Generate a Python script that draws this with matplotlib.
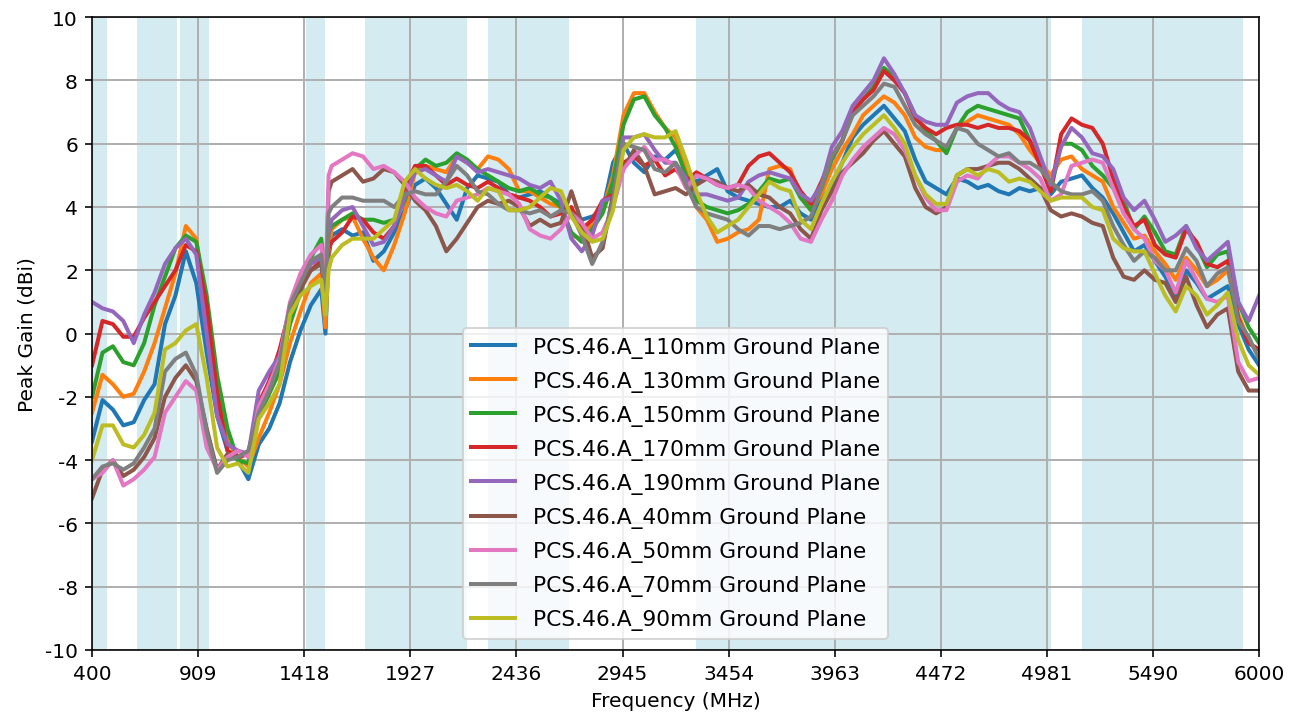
import matplotlib
matplotlib.use("Agg")
import matplotlib.pyplot as plt

plt.rcParams['axes.unicode_minus'] = False

freq = list(range(400, 1501, 50)) + [1520, 1535] + list(range(1550, 6001, 50))

labels = ["PCS.46.A_110mm Ground Plane", "PCS.46.A_130mm Ground Plane",
          "PCS.46.A_150mm Ground Plane", "PCS.46.A_170mm Ground Plane",
          "PCS.46.A_190mm Ground Plane", "PCS.46.A_40mm Ground Plane",
          "PCS.46.A_50mm Ground Plane", "PCS.46.A_70mm Ground Plane",
          "PCS.46.A_90mm Ground Plane"]

gp110 = [-3.4, -2.1, -2.4, -2.9, -2.8, -2.1, -1.6, 0.3, 1.2, 2.6, 1.6, -0.6, -2.6, -3.7, -4.0, -4.6,
         -3.5, -3.0, -2.2, -0.9, 0.1, 0.9, 1.4, 0.0, 2.4, 3.1, 3.3, 3.1, 3.2, 2.3, 2.6, 3.2, 3.9, 4.7,
         4.9, 4.6, 4.1, 3.6, 4.6, 5.0, 4.9, 4.8, 4.4, 4.3, 4.4, 4.5, 4.3, 4.1, 3.9, 3.6, 3.7, 3.9, 5.4,
         6.0, 5.4, 5.1, 5.6, 5.5, 5.8, 5.2, 4.8, 5.0, 5.2, 4.5, 4.3, 4.2, 4.1, 4.0, 4.0, 4.2, 3.8, 3.6,
         4.2, 4.7, 5.4, 6.2, 6.6, 6.9, 7.2, 6.8, 6.4, 5.5, 4.8, 4.6, 4.4, 4.9, 4.8, 4.6, 4.7, 4.5, 4.4,
         4.6, 4.5, 4.6, 4.4, 4.8, 4.9, 5.0, 4.6, 4.3, 3.8, 3.2, 2.6, 2.8, 2.3, 1.8, 1.2, 2.0, 1.6, 1.1,
         1.3, 1.5, 0.3, -0.5, -1.0]
gp130 = [-2.5, -1.3, -1.6, -2.0, -1.9, -1.2, -0.3, 0.8, 1.9, 3.4, 3.0, 0.6, -1.6, -3.4, -3.9, -4.2,
         -3.3, -2.5, -1.6, -0.3, 0.7, 1.6, 1.9, 0.2, 2.6, 3.3, 3.6, 3.7, 3.0, 2.4, 2.0, 2.8, 3.8, 5.1,
         5.3, 5.2, 5.1, 5.6, 5.4, 5.2, 5.6, 5.5, 5.2, 4.5, 4.5, 4.3, 4.1, 4.0, 3.1, 3.0, 3.5, 3.9, 5.0,
         6.9, 7.6, 7.6, 7.0, 6.5, 6.2, 5.2, 4.0, 3.6, 2.9, 3.0, 3.2, 3.3, 3.6, 5.2, 5.3, 5.2, 4.3, 3.9,
         4.4, 5.2, 5.8, 6.3, 6.9, 7.2, 7.5, 7.3, 6.9, 6.2, 5.9, 5.8, 5.8, 6.5, 6.7, 6.9, 6.8, 6.7, 6.6,
         6.3, 5.8, 5.4, 5.0, 5.5, 5.6, 5.2, 5.0, 4.8, 4.0, 3.5, 3.0, 3.1, 2.6, 2.2, 1.7, 2.4, 2.0, 1.5,
         1.7, 2.0, 0.6, -0.2, -0.7]
gp150 = [-2.0, -0.6, -0.4, -0.9, -1.0, -0.3, 0.9, 1.8, 2.7, 3.1, 2.9, 1.2, -1.3, -3.0, -4.0, -4.1,
         -2.6, -1.9, -1.2, 0.3, 1.3, 2.4, 3.0, 1.6, 3.2, 3.4, 3.6, 3.8, 3.6, 3.6, 3.5, 3.6, 4.2, 5.2,
         5.5, 5.3, 5.4, 5.7, 5.5, 5.2, 5.0, 4.8, 4.6, 4.5, 4.6, 4.4, 4.3, 4.0, 3.2, 2.9, 3.3, 3.8, 4.8,
         6.6, 7.4, 7.5, 6.9, 6.5, 5.9, 5.0, 4.2, 4.0, 3.9, 3.8, 3.9, 4.1, 4.5, 4.9, 4.8, 4.9, 4.3, 3.9,
         4.6, 5.5, 6.1, 7.0, 7.4, 7.8, 8.4, 8.1, 7.6, 6.9, 6.4, 6.1, 5.7, 6.5, 7.0, 7.2, 7.1, 7.0, 6.9,
         6.8, 6.1, 5.4, 4.5, 6.0, 6.0, 5.8, 5.3, 5.0, 4.6, 4.2, 3.3, 3.7, 3.2, 2.6, 2.5, 3.4, 2.8, 2.1,
         2.5, 2.6, 1.0, 0.2, -0.3]
gp170 = [-1.0, 0.4, 0.3, -0.1, -0.1, 0.5, 1.0, 1.5, 2.0, 2.8, 2.6, 0.9, -1.9, -3.7, -3.9, -3.8,
         -2.2, -1.5, -0.5, 0.8, 1.7, 2.0, 2.3, 1.2, 2.7, 2.9, 3.2, 3.7, 3.6, 3.2, 3.0, 3.4, 4.6, 5.3,
         5.3, 5.0, 4.7, 4.9, 4.7, 4.6, 4.8, 4.6, 4.4, 4.3, 4.2, 4.0, 3.7, 3.8, 4.0, 3.3, 3.6, 4.2, 4.4,
         5.4, 5.6, 5.3, 5.5, 5.0, 5.2, 4.8, 5.1, 4.9, 4.7, 4.6, 4.7, 5.3, 5.6, 5.7, 5.4, 5.1, 4.5, 4.1,
         4.8, 5.6, 6.1, 7.0, 7.4, 7.7, 8.3, 8.0, 7.6, 6.8, 6.5, 6.3, 6.5, 6.6, 6.6, 6.5, 6.6, 6.5, 6.5,
         6.4, 6.1, 5.3, 4.5, 6.3, 6.8, 6.6, 6.5, 6.0, 4.9, 4.0, 3.4, 3.6, 2.8, 2.5, 2.4, 3.3, 2.9, 2.2,
         2.1, 2.3, 0.5, -0.3, -0.5]
gp190 = [1.0, 0.8, 0.7, 0.4, -0.3, 0.6, 1.3, 2.2, 2.7, 3.0, 2.5, 0.0, -2.6, -3.5, -3.7, -3.8,
         -1.8, -1.2, -0.7, 0.8, 1.6, 2.2, 2.4, 1.2, 3.2, 3.6, 3.9, 4.0, 3.4, 2.8, 2.9, 3.4, 4.3, 5.1,
         5.2, 5.0, 4.8, 5.6, 5.4, 5.1, 5.2, 5.1, 5.0, 4.9, 4.7, 4.6, 4.8, 4.2, 3.0, 2.6, 3.1, 4.2, 4.3,
         6.2, 6.2, 6.3, 5.8, 5.4, 5.4, 4.9, 4.4, 4.4, 4.3, 4.2, 4.3, 4.8, 5.0, 5.1, 5.0, 4.9, 4.4, 4.2,
         4.7, 5.9, 6.4, 7.2, 7.6, 8.0, 8.7, 8.2, 7.6, 6.9, 6.7, 6.6, 6.6, 7.3, 7.5, 7.6, 7.6, 7.3, 7.1,
         7.0, 6.5, 5.6, 4.7, 5.9, 6.5, 6.2, 5.7, 5.6, 5.2, 4.3, 3.9, 4.2, 3.6, 2.9, 3.1, 3.4, 2.7, 2.3,
         2.6, 2.9, 1.0, 0.4, 1.2]
gp40 = [-5.2, -4.3, -4.0, -4.5, -4.3, -3.9, -3.3, -2.0, -1.4, -1.0, -1.5, -3.0, -4.3, -3.8, -3.9, -3.8,
        -2.4, -1.8, -0.9, 0.8, 1.4, 2.0, 2.2, 1.2, 4.5, 4.8, 5.0, 5.2, 4.8, 4.9, 5.2, 5.1, 4.7, 4.2,
        3.9, 3.4, 2.6, 3.0, 3.5, 4.0, 4.2, 4.1, 4.2, 4.0, 3.4, 3.6, 3.4, 3.5, 4.5, 3.5, 2.4, 2.7, 4.4,
        5.2, 5.8, 5.3, 4.4, 4.5, 4.6, 4.4, 4.7, 4.9, 4.8, 4.6, 4.5, 4.7, 4.4, 4.3, 4.0, 3.8, 3.3, 3.0,
        3.9, 4.5, 5.1, 5.4, 5.7, 6.1, 6.4, 6.0, 5.6, 4.6, 4.0, 3.8, 4.0, 5.0, 5.2, 5.2, 5.3, 5.4, 5.4,
        5.2, 4.9, 4.6, 3.9, 3.7, 3.8, 3.7, 3.5, 3.4, 2.4, 1.8, 1.7, 2.0, 1.7, 1.6, 1.0, 1.8, 0.9, 0.2,
        0.6, 0.8, -1.2, -1.8, -1.8]
gp50 = [-4.6, -4.4, -4.0, -4.8, -4.6, -4.3, -3.9, -2.5, -2.0, -1.5, -1.8, -3.6, -4.3, -3.9, -3.7, -3.9,
        -2.3, -1.6, -0.8, 1.0, 1.9, 2.5, 2.8, 1.5, 5.0, 5.3, 5.5, 5.7, 5.6, 5.2, 5.3, 5.1, 4.8, 4.3,
        4.0, 3.8, 3.7, 4.2, 4.3, 4.4, 4.6, 4.5, 4.4, 4.1, 3.3, 3.1, 3.0, 3.3, 3.8, 3.5, 3.0, 3.2, 4.0,
        5.2, 5.6, 5.9, 5.5, 5.5, 5.3, 4.6, 5.0, 4.9, 4.7, 4.6, 4.7, 4.6, 4.2, 4.0, 3.8, 3.5, 3.0, 2.9,
        3.6, 4.2, 5.0, 5.5, 5.9, 6.2, 6.5, 6.3, 5.8, 5.0, 4.3, 3.9, 3.9, 4.8, 5.0, 4.9, 5.3, 5.6, 5.6,
        5.4, 5.2, 4.9, 4.2, 4.4, 5.3, 5.4, 5.5, 5.4, 4.6, 3.8, 3.3, 3.0, 2.3, 2.0, 1.3, 2.3, 1.7, 1.1,
        1.0, 1.2, -0.9, -1.5, -1.4]
gp70 = [-4.6, -4.2, -4.1, -4.3, -4.1, -3.6, -3.0, -1.2, -0.8, -0.6, -1.3, -3.1, -4.4, -4.0, -3.9, -3.7,
        -2.5, -1.8, -0.9, 0.9, 1.6, 2.3, 2.5, 1.1, 3.8, 4.0, 4.3, 4.3, 4.2, 4.2, 4.2, 4.0, 4.4, 4.5,
        4.4, 4.4, 4.8, 5.3, 5.0, 4.5, 4.4, 4.1, 3.9, 3.9, 3.8, 3.9, 3.7, 3.9, 3.8, 3.1, 2.2, 2.9, 4.2,
        6.0, 5.9, 5.8, 5.2, 5.1, 5.4, 4.7, 4.0, 3.8, 3.7, 3.6, 3.3, 3.1, 3.4, 3.4, 3.3, 3.4, 3.5, 3.7,
        4.6, 5.6, 6.1, 6.9, 7.2, 7.5, 7.9, 7.8, 7.2, 6.6, 6.3, 6.1, 5.9, 6.5, 6.4, 6.0, 5.8, 5.6, 5.7,
        5.4, 5.4, 5.2, 4.8, 4.5, 4.4, 4.4, 4.5, 4.2, 3.4, 2.8, 2.3, 2.6, 2.4, 2.0, 2.0, 2.7, 2.3, 1.5,
        1.9, 2.1, 0.4, -0.1, -0.8]
gp90 = [-4.0, -2.9, -2.9, -3.5, -3.6, -3.2, -2.5, -0.5, -0.3, 0.1, 0.3, -1.4, -3.6, -4.2, -4.1, -4.4,
        -2.7, -2.2, -1.6, 0.6, 1.2, 1.5, 1.7, 0.6, 2.0, 2.4, 2.8, 3.0, 3.0, 3.0, 3.3, 3.6, 4.8, 5.2,
        4.9, 4.7, 4.6, 4.7, 4.5, 4.2, 4.6, 4.5, 3.9, 3.9, 4.0, 4.3, 4.6, 4.5, 3.7, 3.2, 2.9, 3.0, 3.9,
        5.8, 6.2, 6.3, 6.2, 6.2, 6.4, 5.5, 4.5, 3.7, 3.2, 3.4, 3.6, 4.0, 4.4, 4.8, 4.6, 4.5, 3.6, 3.3,
        4.1, 4.8, 5.4, 5.9, 6.3, 6.6, 6.9, 6.5, 6.0, 5.0, 4.4, 4.1, 4.1, 5.0, 5.2, 5.0, 5.2, 5.1, 4.8,
        4.9, 4.8, 4.5, 4.2, 4.3, 4.3, 4.3, 4.0, 3.9, 3.0, 2.7, 2.6, 2.6, 1.9, 1.2, 0.7, 1.5, 1.2, 0.6,
        0.9, 1.3, -0.2, -1.0, -1.3]

series = [gp110, gp130, gp150, gp170, gp190, gp40, gp50, gp70, gp90]

bands = [(400, 470), (617, 806), (824, 960), (1427, 1518), (1710, 2200),
         (2300, 2690), (3300, 5000), (5150, 5925)]

xtick_vals = [400, 909.09, 1418.18, 1927.27, 2436.36, 2945.45, 3454.55,
              3963.64, 4472.73, 4981.82, 5490.91, 6000]
xtick_labels = ["400", "909", "1418", "1927", "2436", "2945", "3454",
                "3963", "4472", "4981", "5490", "6000"]
ytick_vals = [-10, -8, -6, -4, -2, 0, 2, 4, 6, 8, 10]

for s in series:
    assert len(s) == len(freq), (len(s), len(freq))

fig, ax = plt.subplots(figsize=(9.0, 5.011), dpi=144.67)
fig.subplots_adjust(left=0.0707, right=0.967, top=0.975, bottom=0.102)

for lo, hi in bands:
    ax.axvspan(lo, hi, color='lightblue', alpha=0.5, lw=0)

for i, (s, lab) in enumerate(zip(series, labels)):
    ax.plot(freq, s, color=f"C{i}", lw=2.0, label=lab)

ax.set_xlim(400, 6000)
ax.set_ylim(-10, 10)
ax.set_xticks(xtick_vals)
ax.set_xticklabels(xtick_labels)
ax.set_yticks(ytick_vals)
ax.grid(True, color='#b0b0b0', lw=1.0)
ax.set_xlabel("Frequency (MHz)")
ax.set_ylabel("Peak Gain (dBi)")
ax.legend(loc='lower center', fontsize=10.85, labelspacing=0.6)

fig.savefig("out.png", dpi=144.67)
